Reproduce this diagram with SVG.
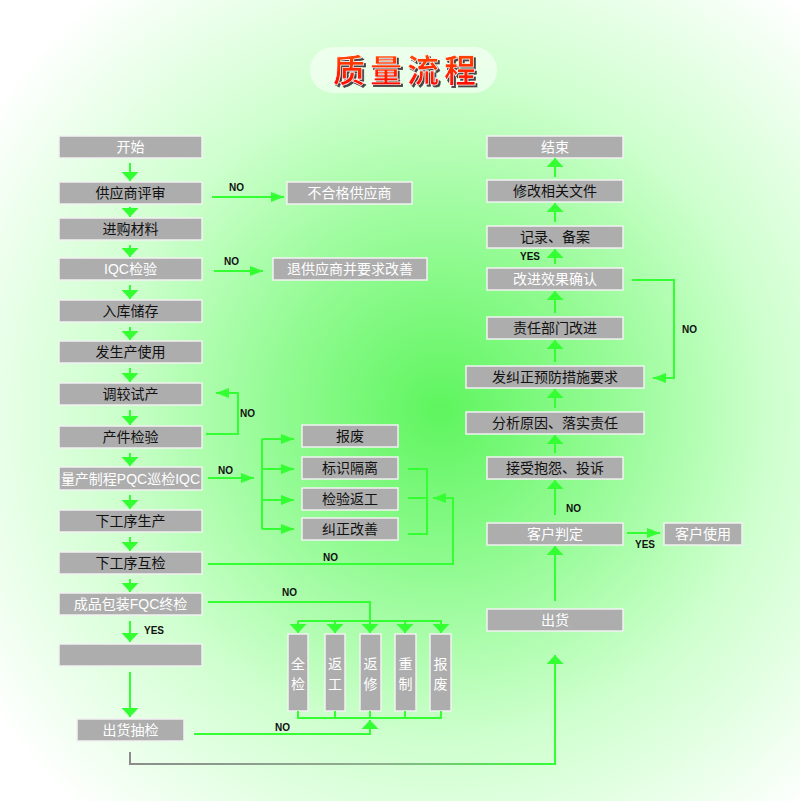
<svg xmlns="http://www.w3.org/2000/svg" width="800" height="801" viewBox="0 0 800 801">
<defs>
<radialGradient id="bg" gradientUnits="userSpaceOnUse" cx="440" cy="410" r="540">
<stop offset="0" stop-color="#5ef55e"/>
<stop offset="0.3" stop-color="#92fb92"/>
<stop offset="0.62" stop-color="#cfffcf"/>
<stop offset="1" stop-color="#ffffff"/>
</radialGradient>
<linearGradient id="red" x1="0" y1="0" x2="0" y2="1">
<stop offset="0" stop-color="#ff5a00"/>
<stop offset="1" stop-color="#ff0000"/>
</linearGradient>
<linearGradient id="bot" gradientUnits="userSpaceOnUse" x1="130" y1="0" x2="555" y2="0">
<stop offset="0" stop-color="#8c8c8c"/>
<stop offset="0.6" stop-color="#8fb08f"/>
<stop offset="1" stop-color="#33ff33"/>
</linearGradient>
<filter id="sh" x="-10%" y="-20%" width="130%" height="150%">
<feDropShadow dx="2" dy="2" stdDeviation="0.6" flood-color="#444" flood-opacity="1"/>
</filter>
<marker id="av" viewBox="0 0 9 17" refX="9" refY="8.5" markerWidth="9" markerHeight="17" orient="auto" markerUnits="userSpaceOnUse">
<path d="M0,0 L9,8.5 L0,17 Z" fill="#33ff33"/>
</marker>
<marker id="ah" viewBox="0 0 13 10" refX="13" refY="5" markerWidth="13" markerHeight="10" orient="auto" markerUnits="userSpaceOnUse">
<path d="M0,0 L13,5 L0,10 Z" fill="#33ff33"/>
</marker>
<style>
.box{fill:#adadad;stroke:#f2f2f2;stroke-width:1.5}
.t{font-family:"Liberation Sans","Noto Sans CJK SC",sans-serif;font-size:14px;text-anchor:middle}
.w{fill:#ffffff}
.b{fill:#111111}
.ln{stroke:#33ff33;stroke-width:2;fill:none}
.v{marker-end:url(#av)}
.h{marker-end:url(#ah)}
.lbl{font-family:"Liberation Sans",sans-serif;font-size:10px;font-weight:bold;fill:#111}
</style>
</defs>
<rect x="0" y="0" width="800" height="801" fill="url(#bg)"/>

<g id="title">
<rect x="310" y="47" width="187" height="46" rx="23" fill="#ffffff" fill-opacity="0.55"/>
<text x="333" y="82" font-family="'Noto Sans CJK SC',sans-serif" font-size="32" font-weight="bold" letter-spacing="5" fill="url(#red)" stroke="#ffffff" stroke-width="0.6" filter="url(#sh)">质量流程</text>
</g>

<!-- left column -->
<g id="n_start"><rect class="box" x="59" y="136" width="143" height="22"/><text class="t w" x="130.5" y="152">开始</text></g>
<g id="n_supeval"><rect class="box" x="59" y="182" width="143" height="22"/><text class="t b" x="130.5" y="198">供应商评审</text></g>
<g id="n_buy"><rect class="box" x="59" y="218" width="143" height="22"/><text class="t b" x="130.5" y="234">进购材料</text></g>
<g id="n_iqc"><rect class="box" x="59" y="258" width="143" height="22"/><text class="t w" x="130.5" y="274">IQC检验</text></g>
<g id="n_store"><rect class="box" x="59" y="300" width="143" height="22"/><text class="t b" x="130.5" y="316">入库储存</text></g>
<g id="n_issue"><rect class="box" x="59" y="341" width="143" height="22"/><text class="t b" x="130.5" y="357">发生产使用</text></g>
<g id="n_trial"><rect class="box" x="59" y="383" width="143" height="22"/><text class="t b" x="130.5" y="399">调较试产</text></g>
<g id="n_partinsp"><rect class="box" x="59" y="426" width="143" height="22"/><text class="t b" x="130.5" y="442">产件检验</text></g>
<g id="n_pqc"><rect class="box" x="59" y="467" width="143" height="23"/><text class="t w" x="130.5" y="484">量产制程PQC巡检IQC</text></g>
<g id="n_nextprod"><rect class="box" x="59" y="510" width="143" height="22"/><text class="t b" x="130.5" y="526">下工序生产</text></g>
<g id="n_nextinsp"><rect class="box" x="59" y="552" width="143" height="22"/><text class="t b" x="130.5" y="568">下工序互检</text></g>
<g id="n_fqc"><rect class="box" x="59" y="593" width="143" height="22"/><text class="t w" x="130.5" y="609">成品包装FQC终检</text></g>
<g id="n_blank"><rect class="box" x="59" y="644" width="143" height="22"/></g>
<g id="n_oqc"><rect class="box" x="77" y="719" width="107" height="22"/><text class="t w" x="130.5" y="735">出货抽检</text></g>

<!-- side boxes left -->
<g id="n_badsup"><rect class="box" x="287" y="182" width="125" height="22"/><text class="t w" x="349.5" y="198">不合格供应商</text></g>
<g id="n_return"><rect class="box" x="273" y="258" width="154" height="22"/><text class="t w" x="350" y="274">退供应商并要求改善</text></g>
<g id="n_scrap"><rect class="box" x="302" y="425" width="96" height="22"/><text class="t b" x="350" y="441">报废</text></g>
<g id="n_mark"><rect class="box" x="302" y="457" width="96" height="22"/><text class="t b" x="350" y="473">标识隔离</text></g>
<g id="n_rework"><rect class="box" x="302" y="488" width="96" height="22"/><text class="t b" x="350" y="504">检验返工</text></g>
<g id="n_correct"><rect class="box" x="302" y="518" width="96" height="22"/><text class="t b" x="350" y="534">纠正改善</text></g>

<!-- vertical boxes -->
<g id="n_v1"><rect class="box" x="288" y="634" width="20" height="77"/><text class="t w" x="298" y="669">全</text><text class="t w" x="298" y="689">检</text></g>
<g id="n_v2"><rect class="box" x="325" y="634" width="20" height="77"/><text class="t w" x="335" y="669">返</text><text class="t w" x="335" y="689">工</text></g>
<g id="n_v3"><rect class="box" x="360" y="634" width="21" height="77"/><text class="t w" x="370.5" y="669">返</text><text class="t w" x="370.5" y="689">修</text></g>
<g id="n_v4"><rect class="box" x="395" y="634" width="21" height="77"/><text class="t w" x="405.5" y="669">重</text><text class="t w" x="405.5" y="689">制</text></g>
<g id="n_v5"><rect class="box" x="430" y="634" width="21" height="77"/><text class="t w" x="440.5" y="669">报</text><text class="t w" x="440.5" y="689">废</text></g>

<!-- right column -->
<g id="n_end"><rect class="box" x="487" y="136" width="136" height="22"/><text class="t w" x="555" y="152">结束</text></g>
<g id="n_docs"><rect class="box" x="487" y="180" width="136" height="22"/><text class="t b" x="555" y="196">修改相关文件</text></g>
<g id="n_record"><rect class="box" x="487" y="226" width="136" height="22"/><text class="t b" x="555" y="242">记录、备案</text></g>
<g id="n_confirm"><rect class="box" x="487" y="268" width="136" height="22"/><text class="t w" x="555" y="284">改进效果确认</text></g>
<g id="n_dept"><rect class="box" x="487" y="317" width="136" height="22"/><text class="t b" x="555" y="333">责任部门改进</text></g>
<g id="n_capa"><rect class="box" x="466" y="366" width="178" height="22"/><text class="t b" x="555" y="382">发纠正预防措施要求</text></g>
<g id="n_analyze"><rect class="box" x="466" y="412" width="178" height="22"/><text class="t b" x="555" y="428">分析原因、落实责任</text></g>
<g id="n_complaint"><rect class="box" x="487" y="457" width="136" height="22"/><text class="t b" x="555" y="473">接受抱怨、投诉</text></g>
<g id="n_judge"><rect class="box" x="487" y="523" width="136" height="22"/><text class="t w" x="555" y="539">客户判定</text></g>
<g id="n_use"><rect class="box" x="664" y="523" width="78" height="22"/><text class="t w" x="703" y="539">客户使用</text></g>
<g id="n_ship"><rect class="box" x="487" y="609" width="136" height="22"/><text class="t w" x="555" y="625">出货</text></g>

<g id="connectors">
<!-- left vertical arrows -->
<path class="ln v" d="M130,163 V181"/>
<path class="ln v" d="M130,207 V217"/>
<path class="ln v" d="M130,245 V257"/>
<path class="ln v" d="M130,285 V299"/>
<path class="ln v" d="M130,327 V340"/>
<path class="ln v" d="M130,368 V382"/>
<path class="ln v" d="M130,410 V425"/>
<path class="ln v" d="M130,453 V466"/>
<path class="ln v" d="M130,495 V509"/>
<path class="ln v" d="M130,537 V551"/>
<path class="ln v" d="M130,579 V592"/>
<path class="ln v" d="M130,621 V642"/>
<path class="ln v" d="M130,672 V717"/>
<!-- side branches -->
<path class="ln h" d="M212,197 H284"/>
<path class="ln h" d="M214,271 H263"/>
<path class="ln h" d="M206,434 H238 V393 H216"/>
<path class="ln h" d="M208,478 H254"/>
<path class="ln" d="M262,439 V529"/>
<path class="ln h" d="M262,439 H294"/>
<path class="ln h" d="M262,469 H294"/>
<path class="ln h" d="M262,500 H294"/>
<path class="ln h" d="M262,529 H294"/>
<path class="ln" d="M408,469 H427 V534 H408 M408,498 H427"/>
<path class="ln h" d="M208,564 H453 V498 H433"/>
<!-- FQC branch -->
<path class="ln v" d="M208,602 H370 V633"/>
<path class="ln" d="M298,621 H442"/>
<path class="ln v" d="M298,621 V633"/>
<path class="ln v" d="M335,621 V633"/>
<path class="ln v" d="M405,621 V633"/>
<path class="ln v" d="M441,621 V633"/>
<path class="ln" d="M298,711 V718 H441 V711 M335,711 V718 M370,711 V718 M405,711 V718"/>
<path class="ln v" d="M194,734 H370 V720"/>
<!-- bottom return line -->
<path d="M130,752 V764 H555" fill="none" stroke="url(#bot)" stroke-width="2"/>
<path class="ln v" d="M555,765 V655"/>
<!-- right column arrows -->
<path class="ln v" d="M555,177 V158"/>
<path class="ln v" d="M555,222 V203"/>
<path class="ln v" d="M555,264 V249"/>
<path class="ln v" d="M555,313 V291"/>
<path class="ln v" d="M555,362 V340"/>
<path class="ln v" d="M555,408 V389"/>
<path class="ln v" d="M555,453 V435"/>
<path class="ln v" d="M555,515 V480"/>
<path class="ln v" d="M555,601 V546"/>
<path class="ln h" d="M632,280 H674 V378 H653"/>
<path class="ln h" d="M627,533 H660"/>
<!-- labels -->
<text class="lbl" x="229" y="191">NO</text>
<text class="lbl" x="224" y="265">NO</text>
<text class="lbl" x="240" y="417">NO</text>
<text class="lbl" x="218" y="474">NO</text>
<text class="lbl" x="323" y="561">NO</text>
<text class="lbl" x="282" y="596">NO</text>
<text class="lbl" x="144" y="634">YES</text>
<text class="lbl" x="275" y="731">NO</text>
<text class="lbl" x="520" y="260">YES</text>
<text class="lbl" x="682" y="333">NO</text>
<text class="lbl" x="566" y="512">NO</text>
<text class="lbl" x="635" y="548">YES</text>
</g>
</svg>
